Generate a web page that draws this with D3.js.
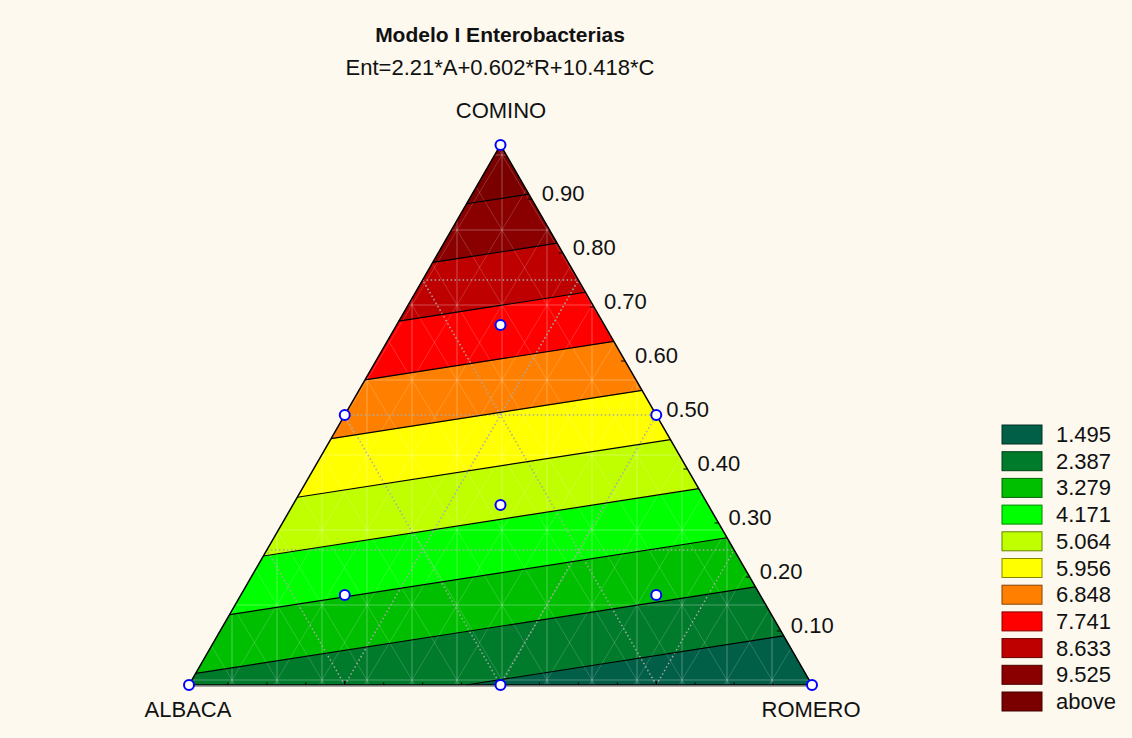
<!DOCTYPE html>
<html>
<head>
<meta charset="utf-8">
<script src="https://cdn.jsdelivr.net/npm/d3@7"></script>
<style>
  body { margin: 0; background: #fdf9ef; }
  svg text { font-family: "Liberation Sans", Arial, sans-serif; fill: #111; }
</style>
</head>
<body>
<div id="chart"></div>
<script>
// Données du modèle
const title = "Modelo I Enterobacterias";
const equation = "Ent=2.21*A+0.602*R+10.418*C";
const coefA = 2.21, coefR = 0.602, coefC = 10.418;
const vertexNames = ["ALBACA", "ROMERO", "COMINO"];
const levels = [1.495, 2.387, 3.279, 4.171, 5.064, 5.956, 6.848, 7.741, 8.633, 9.525];
const legendLabels = ["1.495", "2.387", "3.279", "4.171", "5.064", "5.956", "6.848", "7.741", "8.633", "9.525", "above"];
const bandColors = ["#005f46", "#007a2b", "#00bf00", "#00ff00", "#bfff00", "#ffff00", "#ff8000", "#ff0000", "#bf0000", "#8a0000", "#7a0000"];
const cTicks = [0.1, 0.2, 0.3, 0.4, 0.5, 0.6, 0.7, 0.8, 0.9];
const cTickLabels = ["0.10", "0.20", "0.30", "0.40", "0.50", "0.60", "0.70", "0.80", "0.90"];
// points du plan de mélange [A, R, C]
const designA = [1, 0, 0, 0.5, 0.5, 0, 1/3, 2/3, 1/6, 1/6];
const designR = [0, 1, 0, 0.5, 0, 0.5, 1/3, 1/6, 2/3, 1/6];
const designC = [0, 0, 1, 0, 0.5, 0.5, 1/3, 1/6, 1/6, 2/3];

const width = 1132, height = 738;

const svg = d3.select("#chart").append("svg")
    .attr("width", width)
    .attr("height", height);

svg.append("rect").attr("width", width).attr("height", height).attr("fill", "#fdf9ef");

// Échelles : x = R + C/2, y = C
const x = d3.scaleLinear().domain([0, 1]).range([189, 812]);
const y = d3.scaleLinear().domain([0, 1]).range([685, 145]);
const px = p => x(p[1] + p[2] / 2);
const py = p => y(p[2]);
const f = p => coefA * p[0] + coefR * p[1] + coefC * p[2];

const tri = [[1, 0, 0], [0, 1, 0], [0, 0, 1]];

// Découpage d'un polygone (barycentrique) par un demi-plan f >= v (sign=1) ou f <= v (sign=-1)
function clip(poly, v, sign) {
    const out = [];
    for (let i = 0; i < poly.length; i++) {
        const a = poly[i], b = poly[(i + 1) % poly.length];
        const fa = sign * (f(a) - v), fb = sign * (f(b) - v);
        if (fa >= 0) out.push(a);
        if ((fa >= 0) !== (fb >= 0)) {
            const t = fa / (fa - fb);
            out.push(a.map((d, k) => d + t * (b[k] - d)));
        }
    }
    return out;
}

const line = d3.line().x(px).y(py);

// Bandes colorées
bandColors.forEach((col, i) => {
    let poly = tri;
    if (i > 0) poly = clip(poly, levels[i - 1], 1);
    if (i < levels.length) poly = clip(poly, levels[i], -1);
    if (poly.length < 3) return;
    svg.append("path")
        .attr("d", line(poly) + "Z")
        .attr("fill", col)
        .attr("stroke", col)
        .attr("stroke-width", 0.5);
});

// Grille de fond (rectangulaire + diagonales), découpée au triangle
const clipId = "triClip";
svg.append("clipPath").attr("id", clipId)
    .append("path").attr("d", line(tri) + "Z");
const grid = svg.append("g").attr("clip-path", `url(#${clipId})`);
const gx0 = 502, gdx = 45, gy0 = 605, gdy = 75;
for (let k = -8; k <= 8; k++) {
    grid.append("line")
        .attr("x1", gx0 + k * gdx).attr("x2", gx0 + k * gdx)
        .attr("y1", 140).attr("y2", 690)
        .attr("stroke", "rgba(255,255,255,0.3)").attr("stroke-width", 1);
}
for (let k = -1; k <= 7; k++) {
    grid.append("line")
        .attr("x1", 180).attr("x2", 820)
        .attr("y1", gy0 - k * gdy).attr("y2", gy0 - k * gdy)
        .attr("stroke", "rgba(255,255,255,0.3)").attr("stroke-width", 1);
}
const slope = gdy / gdx;
for (let k = -30; k <= 30; k++) {
    const bx = gx0 + k * gdx;
    [1, -1].forEach(s => {
        grid.append("line")
            .attr("x1", bx).attr("y1", gy0)
            .attr("x2", bx + s * 600 / slope).attr("y2", gy0 - 600)
            .attr("stroke", "rgba(255,255,255,0.22)").attr("stroke-width", 0.8);
        grid.append("line")
            .attr("x1", bx).attr("y1", gy0)
            .attr("x2", bx - s * 100 / slope).attr("y2", gy0 + 100)
            .attr("stroke", "rgba(255,255,255,0.22)").attr("stroke-width", 0.8);
    });
}

// Lignes pointillées à 0.25, 0.5, 0.75 pour chaque composant
[0.25, 0.5, 0.75].forEach(v => {
    const segs = [
        [[v, 1 - v, 0], [v, 0, 1 - v]],
        [[1 - v, v, 0], [0, v, 1 - v]],
        [[1 - v, 0, v], [0, 1 - v, v]]
    ];
    segs.forEach(s => {
        svg.append("path")
            .attr("d", line(s))
            .attr("stroke", "#a8a8a8")
            .attr("stroke-width", 1.5)
            .attr("stroke-dasharray", "1.5,2.5")
            .attr("fill", "none");
    });
});

// Isolignes
levels.forEach(v => {
    const pts = [];
    for (let i = 0; i < 3; i++) {
        const a = tri[i], b = tri[(i + 1) % 3];
        const fa = f(a) - v, fb = f(b) - v;
        if ((fa >= 0) !== (fb >= 0)) {
            const t = fa / (fa - fb);
            pts.push(a.map((d, k) => d + t * (b[k] - d)));
        }
    }
    if (pts.length === 2) {
        svg.append("path").attr("d", line(pts))
            .attr("stroke", "#000").attr("stroke-width", 1.2).attr("fill", "none");
    }
});

// Contour du triangle
svg.append("path")
    .attr("d", line(tri) + "Z")
    .attr("fill", "none")
    .attr("stroke", "#000")
    .attr("stroke-width", 1.5);
svg.append("line")
    .attr("x1", x(0)).attr("x2", x(1)).attr("y1", y(0) + 1).attr("y2", y(0) + 1)
    .attr("stroke", "#8a8a8a").attr("stroke-width", 1.5);

// Graduations du bas
d3.range(1, 16).forEach(i => {
    const big = i % 4 === 0;
    svg.append("line")
        .attr("x1", x(i / 16)).attr("x2", x(i / 16))
        .attr("y1", y(0)).attr("y2", y(0) - (big ? 4 : 2.5))
        .attr("stroke", "#000").attr("stroke-width", big ? 1.5 : 1);
});

// Graduations et étiquettes de COMINO sur le bord droit
cTicks.forEach((c, i) => {
    const p = [0, 1 - c, c];
    svg.append("line")
        .attr("x1", px(p)).attr("y1", py(p))
        .attr("x2", px(p) - 4).attr("y2", py(p))
        .attr("stroke", "#000").attr("stroke-width", 1);
    svg.append("text")
        .attr("x", px(p) + 10)
        .attr("y", py(p) + 2)
        .attr("font-size", 22)
        .text(cTickLabels[i]);
});

// Points du plan
designA.forEach((a, i) => {
    const p = [a, designR[i], designC[i]];
    svg.append("circle")
        .attr("cx", px(p)).attr("cy", py(p))
        .attr("r", 5)
        .attr("fill", "#fff")
        .attr("stroke", "#0000ff")
        .attr("stroke-width", 2);
});

// Titres
svg.append("text").attr("x", 500).attr("y", 42).attr("text-anchor", "middle")
    .attr("font-size", 21).attr("font-weight", "bold").text(title);
svg.append("text").attr("x", 500).attr("y", 75).attr("text-anchor", "middle")
    .attr("font-size", 22).text(equation);
svg.append("text").attr("x", 501).attr("y", 118).attr("text-anchor", "middle")
    .attr("font-size", 22).text(vertexNames[2]);
svg.append("text").attr("x", 188).attr("y", 717).attr("text-anchor", "middle")
    .attr("font-size", 22).text(vertexNames[0]);
svg.append("text").attr("x", 811).attr("y", 717).attr("text-anchor", "middle")
    .attr("font-size", 22).text(vertexNames[1]);

// Légende
const legend = svg.append("g").attr("transform", "translate(1002,425)");
legendLabels.forEach((lab, i) => {
    const g = legend.append("g").attr("transform", `translate(0,${i * 26.7})`);
    g.append("rect")
        .attr("width", 40).attr("height", 19)
        .attr("fill", bandColors[i])
        .attr("stroke", d3.color(bandColors[i]).darker(1.8))
        .attr("stroke-width", 1);
    g.append("text").attr("x", 54).attr("y", 17).attr("font-size", 22).text(lab);
});
</script>
</body>
</html>
